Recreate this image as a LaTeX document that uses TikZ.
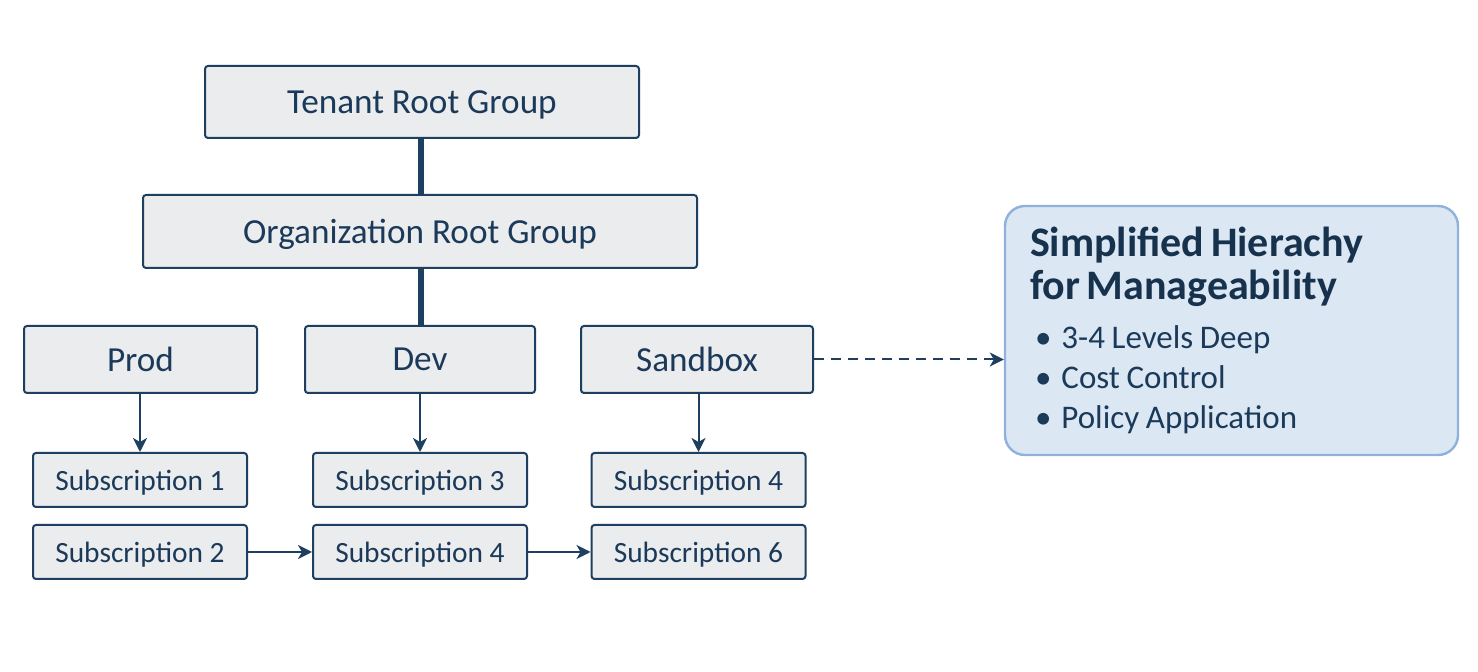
\documentclass[tikz,border=0pt]{standalone}
\usepackage{fontspec}
\setmainfont{Carlito}
\usetikzlibrary{arrows.meta}
\definecolor{navy}{HTML}{1D3F60}
\definecolor{txt}{HTML}{1B3A5A}
\definecolor{boxfill}{HTML}{EBECED}
\definecolor{infofill}{HTML}{DCE7F4}
\definecolor{infodraw}{HTML}{8FB1DC}
\definecolor{titlecol}{HTML}{17324D}
\tikzset{
  grp/.style={draw=navy, fill=boxfill, line width=1pt, rounded corners=1.5pt,
    text=txt, font=\fontsize{17.6}{20}\selectfont, inner sep=0pt, text depth=0pt},
  sub/.style={draw=navy, fill=boxfill, line width=1pt, rounded corners=1.5pt,
    text=txt, font=\fontsize{14.7}{17}\selectfont, inner sep=0pt, text depth=0pt,
    minimum width=107pt, minimum height=27pt},
  thick link/.style={draw=navy, line width=2.6pt},
  arr/.style={draw=navy, line width=1pt, -{Stealth[length=7pt,width=7pt,inset=2pt]}},
  dasharr/.style={arr, dash pattern=on 5pt off 3.5pt},
}
\begin{document}
\begin{tikzpicture}[x=0.5pt,y=-0.5pt]
\useasboundingbox[fill=white] (0,0) rectangle (1478,672);
\node[grp, minimum width=217pt, minimum height=36pt] (tenant) at (422,102) {Tenant Root Group};
\node[grp, minimum width=277pt, minimum height=36.5pt] (org) at (420,231.5) {Organization Root Group};
\node[grp, minimum width=116.5pt, minimum height=33.5pt] (prod) at (140.5,359.5) {Prod};
\node[grp, minimum width=115pt, minimum height=33.5pt] (dev) at (420,359.5) {Dev};
\node[grp, minimum width=116pt, minimum height=33.5pt] (sandbox) at (697,359.5) {Sandbox};
\node[sub] (s1) at (140,480) {Subscription 1};
\node[sub] (s3) at (420,480) {Subscription 3};
\node[sub] (s4a) at (698.5,480) {Subscription 4};
\node[sub] (s2) at (140,552) {Subscription 2};
\node[sub] (s4b) at (420,552) {Subscription 4};
\node[sub] (s6) at (698.5,552) {Subscription 6};
\node[draw=infodraw, fill=infofill, line width=1.2pt, rounded corners=10pt,
  minimum width=226.5pt, minimum height=124.5pt, inner xsep=12.5pt,
  text width=201.5pt, align=left, anchor=center] (info) at (1231.5,330.5)
  {{\color{titlecol}\fontsize{21}{21.5}\selectfont\bfseries Simplified Hierachy\\for Manageability\par}
   \vspace{4.5pt}
   {\color{txt}\fontsize{16.5}{20}\selectfont
   \hspace*{2.5pt}\textbullet\hspace{5pt}3-4 Levels Deep\\
   \hspace*{2.5pt}\textbullet\hspace{5pt}Cost Control\\
   \hspace*{2.5pt}\textbullet\hspace{5pt}Policy Application\par}
   \vspace{-1.5pt}};
\draw[thick link] (org.north -| 421,0) -- (tenant.south -| 421,0);
\draw[thick link] (org.south -| 421,0) -- (dev.north -| 421,0);
\draw[arr] (prod.south -| s1.north) -- (s1.north);
\draw[arr] (dev.south) -- (s3.north);
\draw[arr] (sandbox.south -| s4a.north) -- (s4a.north);
\draw[arr] (s2.east) -- (s4b.west);
\draw[arr] (s4b.east) -- (s6.west);
\draw[dasharr] (sandbox.east) -- (info.west |- sandbox.east);
\end{tikzpicture}
\end{document}
